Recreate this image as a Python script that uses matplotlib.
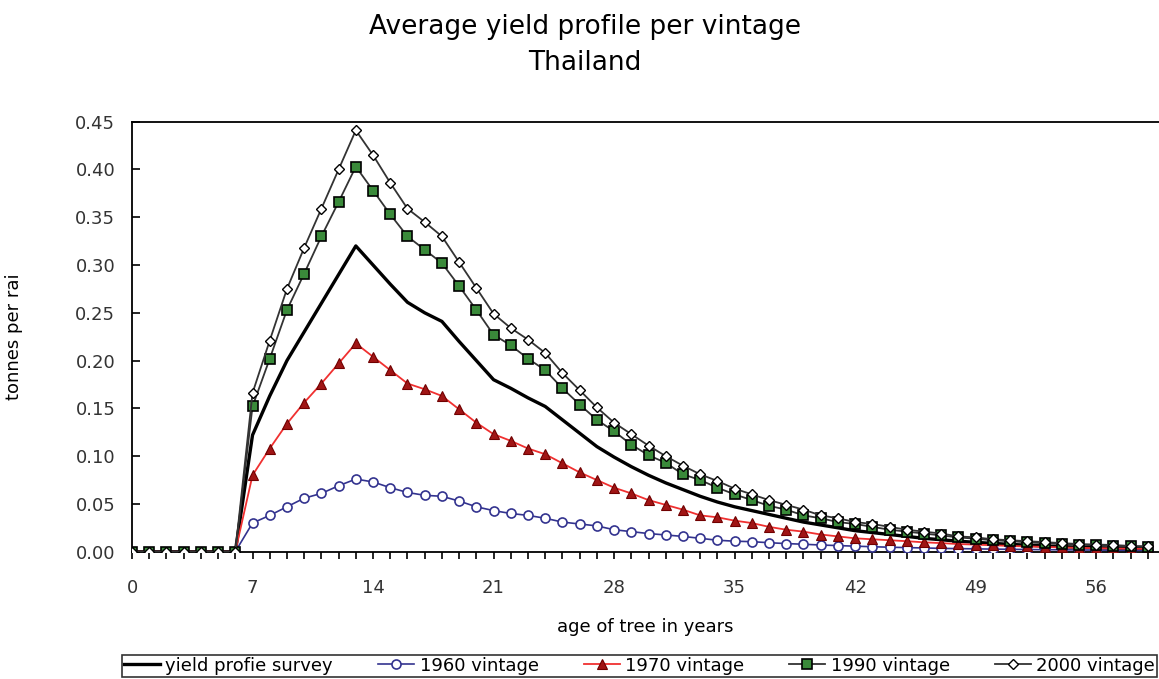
import numpy as np
import matplotlib
matplotlib.use("Agg")
import matplotlib.pyplot as plt
from matplotlib.ticker import MultipleLocator

# age of tree, 0..59 years
ages = list(range(60))
zeros = [0.0] * 7

survey = zeros + [0.122, 0.163, 0.200, 0.230, 0.260, 0.290, 0.320, 0.300, 0.280, 0.261,
                  0.250, 0.241, 0.220, 0.200, 0.180, 0.171, 0.161, 0.152, 0.138, 0.124,
                  0.110, 0.099, 0.089, 0.080, 0.072, 0.065, 0.058, 0.052, 0.047, 0.043,
                  0.039, 0.035, 0.031, 0.028, 0.025, 0.022, 0.020, 0.018, 0.016, 0.014,
                  0.0125, 0.011, 0.0098, 0.0087, 0.0077, 0.0068, 0.006, 0.0053, 0.0047, 0.0042,
                  0.0037, 0.0033, 0.003]

v1960 = zeros + [0.030, 0.038, 0.047, 0.056, 0.061, 0.069, 0.076, 0.073, 0.067, 0.062,
                 0.059, 0.058, 0.053, 0.047, 0.043, 0.040, 0.038, 0.035, 0.031, 0.029,
                 0.027, 0.023, 0.021, 0.019, 0.0175, 0.016, 0.014, 0.012, 0.011, 0.0105,
                 0.0094, 0.0085, 0.0078, 0.007, 0.0064, 0.0058, 0.0052, 0.0047, 0.0043, 0.0039,
                 0.0035, 0.0032, 0.003, 0.0027, 0.0025, 0.0023, 0.0021, 0.002, 0.0018, 0.0017,
                 0.0016, 0.0015, 0.0014]

v1970 = zeros + [0.080, 0.108, 0.134, 0.156, 0.176, 0.197, 0.218, 0.204, 0.190, 0.176,
                 0.170, 0.163, 0.149, 0.135, 0.123, 0.116, 0.108, 0.102, 0.0925, 0.083,
                 0.075, 0.067, 0.061, 0.054, 0.049, 0.044, 0.038, 0.036, 0.0325, 0.030,
                 0.026, 0.023, 0.021, 0.018, 0.016, 0.014, 0.013, 0.012, 0.011, 0.0098,
                 0.009, 0.008, 0.0074, 0.0067, 0.006, 0.0055, 0.005, 0.0045, 0.004, 0.0037,
                 0.0034, 0.0031, 0.003]

v1990 = zeros + [0.152, 0.202, 0.253, 0.291, 0.330, 0.366, 0.403, 0.378, 0.353, 0.330,
                 0.316, 0.302, 0.278, 0.253, 0.227, 0.216, 0.202, 0.190, 0.171, 0.154,
                 0.138, 0.126, 0.112, 0.101, 0.093, 0.081, 0.075, 0.067, 0.060, 0.054,
                 0.048, 0.044, 0.038, 0.035, 0.031, 0.029, 0.026, 0.023, 0.021, 0.019,
                 0.017, 0.015, 0.0135, 0.012, 0.011, 0.0098, 0.0088, 0.008, 0.0073, 0.0066,
                 0.006, 0.0055, 0.005]

v2000 = zeros + [0.166, 0.221, 0.275, 0.318, 0.359, 0.400, 0.441, 0.415, 0.386, 0.359,
                 0.345, 0.330, 0.303, 0.276, 0.249, 0.234, 0.222, 0.208, 0.187, 0.169,
                 0.151, 0.135, 0.123, 0.111, 0.100, 0.090, 0.081, 0.074, 0.066, 0.060,
                 0.054, 0.049, 0.044, 0.038, 0.035, 0.031, 0.029, 0.026, 0.023, 0.021,
                 0.019, 0.016, 0.015, 0.013, 0.012, 0.011, 0.010, 0.009, 0.008, 0.0075,
                 0.007, 0.006, 0.0057]

fig = plt.figure(figsize=(11.59, 6.79), dpi=100)
ax = fig.add_axes([132 / 1159, 1 - 551.7 / 679, 1 - 132 / 1159, (551.7 - 121.7) / 679])

ax.plot(ages, survey, color='black', lw=2.4, label='yield profie survey', zorder=2)
ax.plot(ages, v1960, color='#33338f', lw=1.2, marker='o', ms=6.5, mfc='white',
        mec='#33338f', mew=1.2, label='1960 vintage', zorder=3)
ax.plot(ages, v1970, color='#f03030', lw=1.3, marker='^', ms=7, mfc='#a01515',
        mec='#700000', mew=0.8, label='1970 vintage', zorder=4)
ax.plot(ages, v1990, color='#333333', lw=1.3, marker='s', ms=7.5, mfc='#3a8a3a',
        mec='black', mew=1.2, label='1990 vintage', zorder=5)
ax.plot(ages, v2000, color='#333333', lw=1.3, marker='D', ms=5, mfc='white',
        mec='black', mew=1.0, label='2000 vintage', zorder=6)

ax.set_xlim(0, 59.65)
ax.set_ylim(0, 0.45)
ax.xaxis.set_major_locator(MultipleLocator(7))
ax.xaxis.set_minor_locator(MultipleLocator(1))
ax.yaxis.set_major_locator(MultipleLocator(0.05))
ax.yaxis.set_major_formatter(matplotlib.ticker.FormatStrFormatter('%.2f'))
ax.tick_params(axis='x', which='both', direction='out', length=5, width=1.2,
               labelsize=13, pad=15, colors='black')
ax.tick_params(axis='y', direction='in', length=6, width=1.2, labelsize=13, pad=12)
ax.spines['right'].set_visible(False)
for s in ['left', 'top', 'bottom']:
    ax.spines[s].set_linewidth(1.3)
for lbl in ax.get_xticklabels() + ax.get_yticklabels():
    lbl.set_color('#333333')

ax.set_xlabel('age of tree in years', fontsize=13, labelpad=15)
ax.set_ylabel('tonnes per rai', fontsize=13, labelpad=38)

fig.text(0.505, 0.96, 'Average yield profile per vintage', ha='center', va='center', fontsize=19)
fig.text(0.505, 0.907, 'Thailand', ha='center', va='center', fontsize=19)

leg = fig.legend(loc='upper left', bbox_to_anchor=(122 / 1159, 1 - 655 / 679, 1 - 124 / 1159, 0.0),
                 mode='expand', ncol=5, fontsize=13, frameon=True, fancybox=False,
                 edgecolor='black', borderpad=0.1, handlelength=2.0, handletextpad=0.3,
                 columnspacing=0.8, borderaxespad=0)
leg.get_frame().set_linewidth(1.2)

fig.savefig('out.png', dpi=100)
